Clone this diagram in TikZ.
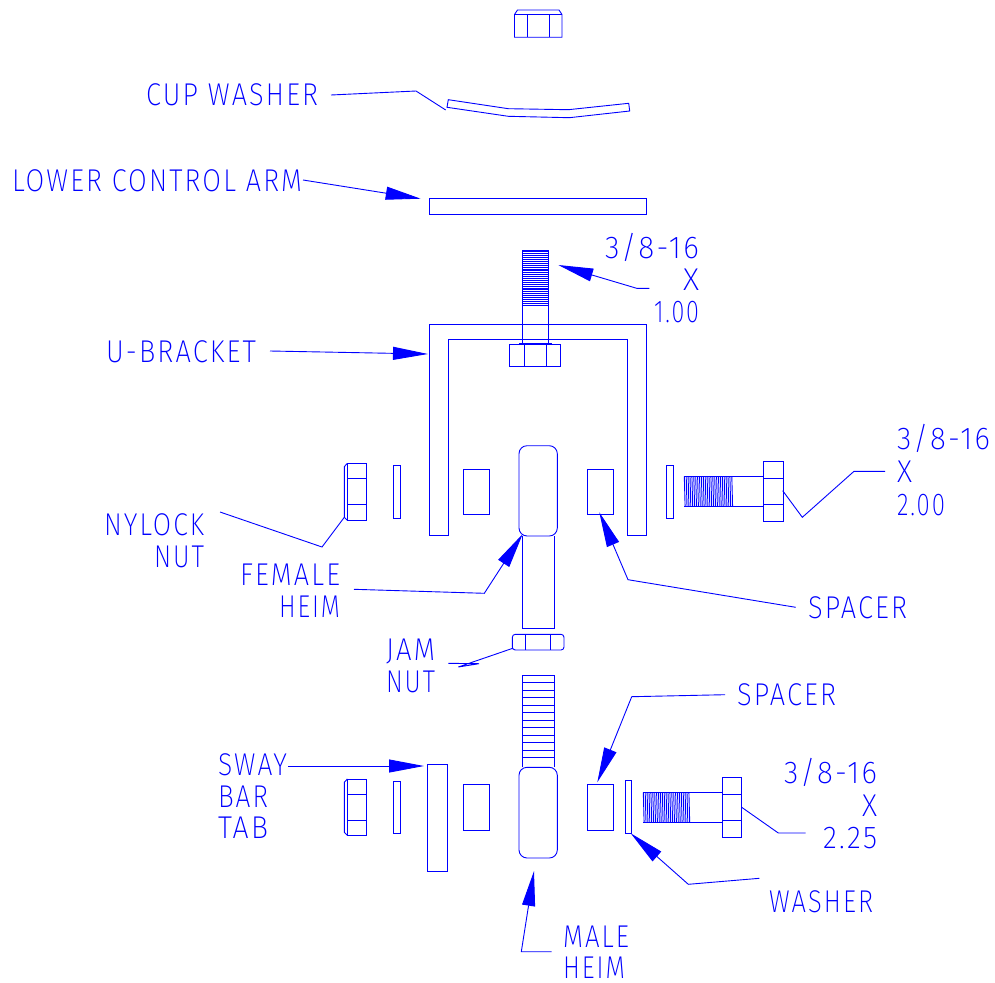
\documentclass[tikz,border=0pt]{standalone}
\usepackage{fontspec}
\usepackage{graphicx}
\usetikzlibrary{arrows.meta}
\newfontfamily\lblfont[LetterSpace=8]{Fira Sans ExtraLight}
\newcommand{\fitw}[2]{\kern-2pt\resizebox{\dimexpr#1pt+2pt\relax}{\height}{#2}}
\definecolor{cadblue}{RGB}{0,0,255}
\tikzset{
  part/.style={draw=cadblue,line width=0.9pt,line join=miter},
  hatchline/.style={draw=cadblue,line width=0.9pt},
  leader/.style={draw=cadblue,line width=0.9pt},
  leadarrow/.style={leader,-{Triangle[length=35pt 0,width=13pt 0,fill=cadblue]}},
  lbl/.style={text=cadblue,anchor=base west,inner sep=0pt,outer sep=0pt,font=\lblfont\fontsize{31.5}{32}\selectfont}
}
\begin{document}
\begin{tikzpicture}[x=1pt,y=-1pt]
\useasboundingbox (0,0) rectangle (995,982);
% --- top nut
\draw[part] (514.5,14.5) -- (517.5,10) -- (559,10) -- (562,14.5) -- (562,37.3) -- (514.5,37.3) -- cycle;
\draw[part] (514.5,14.5) -- (562,14.5) (527.5,14.5) -- (527.5,37.3) (549.5,14.5) -- (549.5,37.3);
% --- cup washer
\draw[part] (448.3,99.7) -- (508.3,108.7) -- (568.3,109.7) -- (628.7,103.3) -- (629.7,111) -- (569.3,117.7) -- (508.3,116.3) -- (447,107.3) -- cycle;
% --- lower control arm
\draw[part] (429.3,198.7) rectangle (646.7,214.3);
% --- U bracket
\draw[part] (429.3,535.3) -- (429.3,324) -- (646.7,324) -- (646.7,535.3) -- (627.7,535.3) -- (627.7,339) -- (448.3,339) -- (448.3,535.3) -- cycle;
% --- vertical bolt 1.00
\draw[part] (522.7,250) -- (548,250) (522.7,250) -- (522.7,344) (548,250) -- (548,344);
\foreach \yy in {250,251.9,...,306} {\draw[hatchline] (522.7,\yy) -- (548,\yy);}
\draw[part] (509.3,344) rectangle (560.7,366.7);
\draw[part] (524.3,344) -- (524.3,366.7) (546.3,344) -- (546.3,366.7);
\draw[part,line width=1.3pt] (519,344) -- (552,344);
% --- upper row
\draw[part] (347.3,463.3) rectangle (366.7,520.3);
\draw[part] (347.3,478.3) -- (366.7,478.3) (347.3,504.3) -- (366.7,504.3);
\draw[part] (347.3,463.3) -- (344.3,466.7) -- (344.3,517.3) -- (347.3,520.3);
\draw[part] (393.3,465) rectangle (400.3,518.3);
\draw[part] (463.3,469) rectangle (489,514.3);
\draw[part] (587.3,469) rectangle (613.3,514.3);
\draw[part,rounded corners=8pt] (519,445.7) rectangle (557.3,536);
\draw[part] (522.3,536) -- (522.3,628.3) -- (554.3,628.3) -- (554.3,536);
\draw[part] (666.3,465.3) rectangle (673.7,518.3);
\draw[part] (763.7,461.3) rectangle (783.3,521.7);
\draw[part] (763.7,478.3) -- (783.3,478.3) (763.7,504.7) -- (783.3,504.7);
\draw[part] (684.3,476.3) -- (763.7,476.3) (684.3,506.7) -- (763.7,506.7);
\foreach \xx in {684.3,686.2,...,732} {\draw[hatchline] (\xx,476.3) -- (\xx+0.8,506.7);}
% --- jam nut
\draw[part,rounded corners=3pt] (512.3,634.3) rectangle (564,650);
\draw[part] (525.7,634.3) -- (525.7,650) (550.7,634.3) -- (550.7,650);
% --- threaded rod
\draw[part] (522.3,767.3) -- (522.3,675.3) -- (554.3,675.3) -- (554.3,767.3);
\foreach \yy in {675.3,682.8,...,765} {\draw[hatchline] (522.3,\yy) -- (554.3,\yy);}
\draw[part,rounded corners=8pt,fill=white] (519,767.3) rectangle (557.3,858);
% --- lower row
\draw[part] (347.3,779) rectangle (366.7,835.3);
\draw[part] (347.3,794.3) -- (366.7,794.3) (347.3,820.3) -- (366.7,820.3);
\draw[part] (347.3,779) -- (344.3,782.3) -- (344.3,832.3) -- (347.3,835.3);
\draw[part] (393.3,781) rectangle (400.3,833.7);
\draw[part] (427.3,764) rectangle (447.3,871.3);
\draw[part] (463.3,784.3) rectangle (489,830);
\draw[part] (587.3,784.3) rectangle (613.3,830);
\draw[part] (625,780.7) rectangle (631.7,833.3);
\draw[part] (722.3,777.3) rectangle (741.7,837.3);
\draw[part] (722.3,794.3) -- (741.7,794.3) (722.3,820.3) -- (741.7,820.3);
\draw[part] (643.3,792.3) -- (722.3,792.3) (643.3,822.3) -- (722.3,822.3);
\foreach \xx in {643.3,645.2,...,690.3} {\draw[hatchline] (\xx,792.3) -- (\xx+0.8,822.3);}
% --- labels
\node[lbl] (cup) at (148,106) {\fitw{170}{CUP WASHER}};
\node[lbl] (lca) at (14,191) {\fitw{288}{LOWER CONTROL ARM}};
\node[lbl] (boltAa) at (607,258) {\fitw{92}{3/8-16}};
\node[lbl] (boltAb) at (685,290) {\fitw{14}{X}};
\node[lbl] (boltAc) at (656,322) {\fitw{43}{1.00}};
\node[lbl] (ubr) at (108,362) {\fitw{148}{U-BRACKET}};
\node[lbl] (boltBa) at (899,449) {\fitw{91}{3/8-16}};
\node[lbl] (boltBb) at (899,482) {\fitw{13}{X}};
\node[lbl] (boltBc) at (899,515) {\fitw{46}{2.00}};
\node[lbl] (nyla) at (106,535) {\fitw{98}{NYLOCK}};
\node[lbl] (nylb) at (156,567) {\fitw{48}{NUT}};
\node[lbl] (fema) at (242,585) {\fitw{98}{FEMALE}};
\node[lbl] (femb) at (281,617) {\fitw{59}{HEIM}};
\node[lbl] (spA) at (810,618) {\fitw{97}{SPACER}};
\node[lbl] (jama) at (388,660) {\fitw{47}{JAM}};
\node[lbl] (jamb) at (388,692) {\fitw{47}{NUT}};
\node[lbl] (spB) at (739,705) {\fitw{97}{SPACER}};
\node[lbl] (boltCa) at (786,783) {\fitw{91}{3/8-16}};
\node[lbl] (boltCb) at (864,816) {\fitw{13}{X}};
\node[lbl] (boltCc) at (825,848) {\fitw{52}{2.25}};
\node[lbl] (swaa) at (220,775) {\fitw{67}{SWAY}};
\node[lbl] (swab) at (220,807) {\fitw{48}{BAR}};
\node[lbl] (swac) at (220,838) {\fitw{48}{TAB}};
\node[lbl] (wsh) at (771,912) {\fitw{102}{WASHER}};
\node[lbl] (mala) at (565,947) {\fitw{64}{MALE}};
\node[lbl] (malb) at (565,978) {\fitw{60}{HEIM}};
% --- leader ends
\coordinate (cupS) at (331,95);   \coordinate (cupE) at (445.7,110);
\coordinate (lcaS) at (303,180);  \coordinate (lcaE) at (420.7,198.7);
\coordinate (boltAS) at (649.3,288.3); \coordinate (boltAE) at (558.3,265);
\coordinate (ubrS) at (270,351);  \coordinate (ubrE) at (428,354);
\coordinate (boltBS) at (885,471.3); \coordinate (boltBE) at (782.7,490.7);
\coordinate (nylS) at (220,512);
\coordinate (nylE) at (344.3,517.3);
\coordinate (femS) at (354,589.3); \coordinate (femE) at (522.7,534);
\coordinate (spAS) at (795.7,607.3); \coordinate (spAE) at (599.3,512.3);
\coordinate (jamS) at (448.3,663.3); \coordinate (jamE) at (512.7,648.3);
\coordinate (spBS) at (725,694.7); \coordinate (spBE) at (597.3,782.3);
\coordinate (boltCS) at (805.7,833); \coordinate (boltCE) at (741.7,807.3);
\coordinate (swaS) at (288,766); \coordinate (swaE) at (424,766);
\coordinate (wshS) at (759.3,878.3); \coordinate (wshE) at (630.7,833.3);
\coordinate (malS) at (551.7,951.7); \coordinate (malE) at (534,871);
% --- leaders
\draw[leader] (cupS) -- (416,91) -- (cupE);
\draw[leadarrow] (lcaS) -- (lcaE);
\draw[leadarrow] (boltAS) -- (636.7,288.3) -- (boltAE);
\draw[leadarrow] (ubrS) -- (ubrE);
\draw[leader] (boltBS) -- (854,471.3) -- (802.3,517.3) -- (boltBE);
\draw[leader] (nylS) -- (322,547) -- (nylE);
\draw[leadarrow] (femS) -- (484.3,593.3) -- (femE);
\draw[leadarrow] (spAS) -- (628,579.7) -- (spAE);
\draw[leader] (jamS) -- (479,663.7) -- (458.3,667) -- (jamE);
\draw[leadarrow] (spBS) -- (631.7,696.7) -- (spBE);
\draw[leader] (boltCS) -- (778.3,833) -- (boltCE);
\draw[leadarrow] (swaS) -- (swaE);
\draw[leadarrow] (wshS) -- (688.3,884.3) -- (wshE);
\draw[leadarrow] (malS) -- (521.3,951.7) -- (malE);
\end{tikzpicture}
\end{document}
